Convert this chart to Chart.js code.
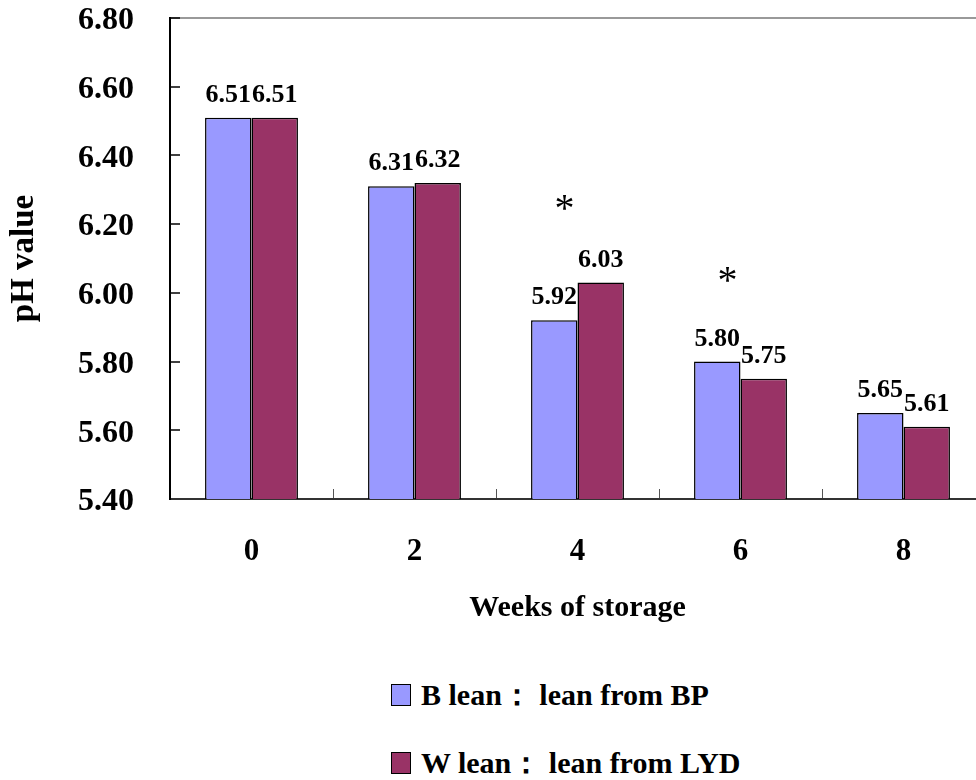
<!DOCTYPE html>
<html lang="en">
<head>
<meta charset="UTF-8" />
<title>pH value</title>
<script src="https://cdn.jsdelivr.net/npm/chart.js@4.4.1/dist/chart.umd.min.js"></script>
<style>
    body { margin: 0; overflow: hidden; background: #fff; width: 976px; height: 780px; position: relative; }
    #board { position: absolute; left: 0; top: 0; width: 990px; height: 640px; }
    #legend { position: absolute; left: 391px; top: 676px; font: bold 30px "Liberation Serif", serif; color: #000; }
    .item { display: flex; align-items: center; height: 38px; margin-bottom: 30px; white-space: nowrap; }
    .box { width: 18px; height: 20px; border: 1px solid #000; margin-right: 10px; }
</style>
</head>
<body>
<div id="board"><canvas id="chart1" width="990" height="640"></canvas></div>
<div id="legend"></div>
<script>
    // data
    const weeks = ['0', '2', '4', '6', '8'];
    const bLean = [6.51, 6.31, 5.92, 5.80, 5.65];
    const wLean = [6.51, 6.32, 6.03, 5.75, 5.61];
    const seriesNames = ['B lean： lean from BP', 'W lean： lean from LYD'];
    const yTicks = [5.40, 5.60, 5.80, 6.00, 6.20, 6.40, 6.60, 6.80];
    // significance marks (*)
    const starWeeks = ['4', '6'];
    const starPH = [6.26, 6.05];

    const serif = '"Liberation Serif", "Times New Roman", serif';

    // value labels above each bar + the stars
    const barLabels = {
        id: 'barLabels',
        afterDatasetsDraw(chart) {
            const ctx = chart.ctx;
            ctx.save();
            ctx.font = 'bold 26px ' + serif;
            ctx.fillStyle = '#000';
            ctx.textAlign = 'center';
            ctx.textBaseline = 'alphabetic';
            chart.data.datasets.forEach((ds, i) => {
                chart.getDatasetMeta(i).data.forEach((bar, j) => {
                    ctx.fillText(ds.data[j].toFixed(2), bar.x, bar.y - 16);
                });
            });
            const x = chart.scales.x, y = chart.scales.y;
            ctx.font = '40px ' + serif;
            ctx.textBaseline = 'middle';
            starWeeks.forEach((w, k) => {
                ctx.fillText('*', x.getPixelForValue(weeks.indexOf(w)) - 13, y.getPixelForValue(starPH[k]) + 7);
            });
            ctx.restore();
        }
    };

    const chart = new Chart(document.getElementById('chart1'), {
        type: 'bar',
        data: {
            labels: weeks,
            datasets: [
                {
                    label: seriesNames[0],
                    data: bLean,
                    backgroundColor: '#9999FF',
                    borderColor: '#000',
                    borderWidth: 1.5,
                },
                {
                    label: seriesNames[1],
                    data: wLean,
                    backgroundColor: '#993366',
                    borderColor: '#000',
                    borderWidth: 1.5,
                },
            ],
        },
        options: {
            responsive: false,
            animation: false,
            devicePixelRatio: 1,
            layout: { padding: { top: 18, right: 5, left: 0, bottom: 0 } },
            datasets: { bar: { categoryPercentage: 0.57, barPercentage: 1 } },
            plugins: {
                legend: { display: false },
                tooltip: { enabled: false },
            },
            scales: {
                x: {
                    grid: {
                        offset: true,
                        drawOnChartArea: false,
                        tickLength: -10,
                        tickColor: '#555',
                    },
                    border: { color: '#333', width: 2 },
                    ticks: {
                        padding: 44,
                        color: '#000',
                        font: { family: serif, size: 31, weight: 'bold' },
                    },
                    title: {
                        display: true,
                        text: 'Weeks of storage',
                        color: '#000',
                        font: { family: serif, size: 30, weight: 'bold' },
                        padding: { top: 0, bottom: 14 },
                    },
                    afterFit(scale) { scale.height = 141; },
                },
                y: {
                    min: 5.4,
                    max: 6.8,
                    afterBuildTicks(scale) { scale.ticks = yTicks.map(v => ({ value: v })); },
                    grid: {
                        color: c => (c.tick && c.tick.value >= 6.8 ? '#999' : 'rgba(0,0,0,0)'),
                        lineWidth: 2,
                        tickLength: -10,
                        tickColor: '#000',
                        tickWidth: 1.5,
                    },
                    border: { color: '#000', width: 2 },
                    ticks: {
                        padding: 46,
                        labelOffset: 3,
                        color: '#000',
                        font: { family: serif, size: 32, weight: 'bold' },
                        callback: v => Number(v).toFixed(2),
                    },
                    title: {
                        display: true,
                        text: 'pH value',
                        color: '#000',
                        font: { family: serif, size: 33, weight: 'bold' },
                        padding: { top: 5, bottom: 0 },
                    },
                    afterFit(scale) {
                        scale.width = 170;
                        scale.paddingTop = 0;
                        scale.paddingBottom = 0;
                    },
                },
            },
        },
        plugins: [barLabels],
    });

    // legend, one series per line
    const legend = document.getElementById('legend');
    chart.data.datasets.forEach(ds => {
        const row = document.createElement('div');
        row.className = 'item';
        const box = document.createElement('span');
        box.className = 'box';
        box.style.background = ds.backgroundColor;
        const txt = document.createElement('span');
        txt.textContent = ds.label;
        row.appendChild(box);
        row.appendChild(txt);
        legend.appendChild(row);
    });
</script>
</body>
</html>
